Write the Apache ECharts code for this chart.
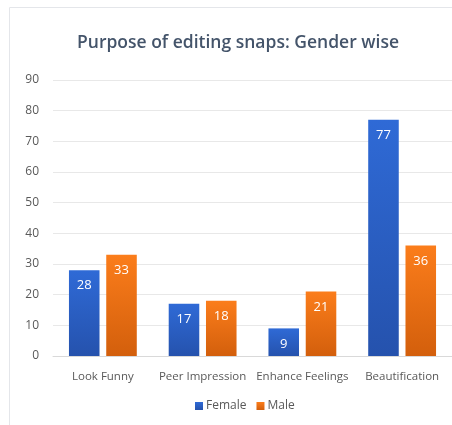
<!DOCTYPE html>
<html><head><meta charset="utf-8">
<script src="https://cdn.jsdelivr.net/npm/echarts@6/dist/echarts.min.js"></script>
<style>html,body{margin:0;padding:0;background:#fff}#c{width:452px;height:425px}</style>
</head><body><div id="c"></div>
<script>
const categories = ['Look Funny', 'Peer Impression', 'Enhance Feelings', 'Beautification'];
const female = [28, 17, 9, 77];
const male = [33, 18, 21, 36];
const yTicks = {min: 0, max: 90, interval: 10};

const chart = echarts.init(document.getElementById('c'));
const font = '"Open Sans", "Liberation Sans", sans-serif';
function grad(top, bottom) {
  return new echarts.graphic.LinearGradient(0, 0, 0, 1, [{offset: 0, color: top}, {offset: 1, color: bottom}]);
}
const label = {show: true, position: 'insideTop', distance: 9, color: '#fff', fontSize: 13, fontFamily: font};
chart.setOption({
  animation: false,
  graphic: [
    {type: 'rect', shape: {x: 9.5, y: 7.5, width: 460, height: 430}, style: {fill: 'none', stroke: '#e4e6ea', lineWidth: 1}, silent: true}
  ],
  title: {
    text: 'Purpose of editing snaps: Gender wise',
    left: 233, top: 29, textAlign: 'center',
    textStyle: {fontFamily: font, fontSize: 17.5, fontWeight: 600, color: '#44546a'}
  },
  legend: {
    data: ['Female', 'Male'], bottom: 8, left: 190,
    itemWidth: 8, itemHeight: 8, itemGap: 10,
    icon: 'rect',
    textStyle: {fontFamily: font, fontSize: 12, color: '#595959', padding: [0, 0, 0, -2]}
  },
  grid: {left: 53, right: -5, top: 80, bottom: 69, containLabel: false},
  xAxis: {
    type: 'category', data: categories,
    axisLine: {show: true, lineStyle: {color: '#d9d9d9'}},
    axisTick: {show: false},
    axisLabel: {fontFamily: font, fontSize: 11.5, color: '#595959', margin: 15, interval: 0}
  },
  yAxis: {
    type: 'value', min: yTicks.min, max: yTicks.max, interval: yTicks.interval,
    axisLine: {show: false}, axisTick: {show: false},
    splitLine: {lineStyle: {color: '#e8e8e8'}},
    axisLabel: {fontFamily: font, fontSize: 12, color: '#595959', margin: 14}
  },
  series: [
    {name: 'Female', type: 'bar', data: female, barCategoryGap: '32%', barGap: '22%',
     itemStyle: {color: grad('#2f6ad6', '#2552ad')}, label: label},
    {name: 'Male', type: 'bar', data: male,
     itemStyle: {color: grad('#fb7d1b', '#d35f0c')}, label: label}
  ]
});
</script></body></html>
